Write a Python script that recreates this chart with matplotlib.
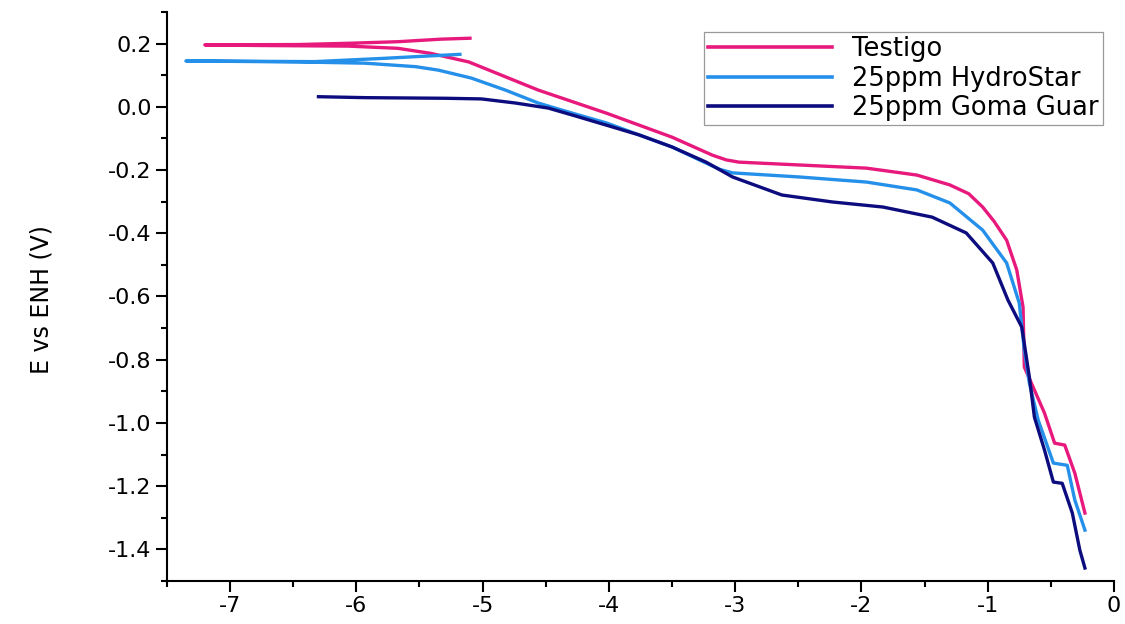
import matplotlib
matplotlib.use('Agg')
import matplotlib.pyplot as plt
from matplotlib.ticker import MultipleLocator, FormatStrFormatter

plt.rcParams['font.family'] = 'DejaVu Sans'
plt.rcParams['axes.unicode_minus'] = False

# log i (x) vs E (y)
testigo_x = [-5.10, -5.33, -5.67, -6.06, -6.46, -7.20, -6.78, -6.06, -5.67, -5.41, -5.11,
             -4.56, -4.02, -3.50, -3.18, -3.07, -2.97, -2.49, -1.96, -1.56, -1.30, -1.15, -1.04,
             -0.95, -0.85, -0.77, -0.72, -0.71, -0.63, -0.55, -0.47, -0.39, -0.31, -0.23]
testigo_y = [0.217, 0.214, 0.206, 0.201, 0.197, 0.196, 0.194, 0.192, 0.185, 0.169, 0.142,
             0.053, -0.020, -0.096, -0.153, -0.168, -0.175, -0.184, -0.194, -0.216, -0.247, -0.275, -0.317,
             -0.362, -0.422, -0.516, -0.634, -0.823, -0.896, -0.969, -1.064, -1.070, -1.159, -1.285]

hydro_x = [-5.18, -5.80, -6.33, -7.35, -6.46, -5.93, -5.53, -5.35, -5.09, -4.82, -4.56,
           -4.29, -4.02, -3.76, -3.50, -3.23, -3.12, -3.02, -2.49, -1.96, -1.56, -1.30, -1.04,
           -0.85, -0.75, -0.71, -0.67, -0.60, -0.48, -0.37, -0.31, -0.23]
hydro_y = [0.166, 0.153, 0.143, 0.145, 0.142, 0.138, 0.127, 0.116, 0.091, 0.053, 0.012,
           -0.020, -0.051, -0.089, -0.127, -0.178, -0.198, -0.209, -0.222, -0.238, -0.263, -0.304, -0.390,
           -0.494, -0.621, -0.770, -0.874, -0.991, -1.127, -1.134, -1.244, -1.339]

guar_x = [-6.30, -5.93, -5.29, -5.01, -4.74, -4.48, -4.29, -4.02, -3.76, -3.50, -3.23,
          -3.02, -2.89, -2.63, -2.23, -1.83, -1.44, -1.17, -0.96, -0.84, -0.73, -0.67,
          -0.63, -0.55, -0.48, -0.41, -0.33, -0.27, -0.23]
guar_y = [0.032, 0.029, 0.027, 0.025, 0.012, -0.004, -0.026, -0.058, -0.089, -0.127, -0.175,
          -0.222, -0.241, -0.279, -0.301, -0.317, -0.349, -0.399, -0.494, -0.611, -0.697, -0.855,
          -0.982, -1.086, -1.187, -1.191, -1.285, -1.403, -1.459]

labels = ['Testigo', '25ppm HydroStar', '25ppm Goma Guar']
colors = ['#e8197c', '#2590ea', '#0c0c7e']

fig = plt.figure(figsize=(11.25, 6.24), dpi=100)
ax = fig.add_axes([0.1484, 0.0689, 0.8418, 0.9119])

ax.plot(testigo_x, testigo_y, color=colors[0], lw=2.4, label=labels[0])
ax.plot(hydro_x, hydro_y, color=colors[1], lw=2.4, label=labels[1])
ax.plot(guar_x, guar_y, color=colors[2], lw=2.4, label=labels[2])

ax.set_xlim(-7.5, 0)
ax.set_ylim(-1.5, 0.3)
ax.xaxis.set_major_locator(MultipleLocator(1))
ax.xaxis.set_minor_locator(MultipleLocator(0.5))
ax.yaxis.set_major_locator(MultipleLocator(0.2))
ax.yaxis.set_minor_locator(MultipleLocator(0.1))
ax.yaxis.set_major_formatter(FormatStrFormatter('%.1f'))
ax.set_yticks([-1.4, -1.2, -1.0, -0.8, -0.6, -0.4, -0.2, 0.0, 0.2])

for s in ['top', 'right']:
    ax.spines[s].set_visible(False)
for s in ['left', 'bottom']:
    ax.spines[s].set_linewidth(1.5)

ax.tick_params(which='major', direction='out', length=8, width=1.5, labelsize=16, pad=3)
ax.tick_params(which='minor', direction='out', length=4.5, width=1.5)

ax.set_ylabel('E vs ENH (V)', fontsize=17)
ax.yaxis.set_label_coords(-0.12, 0.494)

leg = ax.legend(loc='upper right', bbox_to_anchor=(0.988, 0.965), borderaxespad=0,
                fontsize=18.5, frameon=True, fancybox=False, edgecolor='#808080',
                handlelength=4.8, handletextpad=0.8, borderpad=0.15, labelspacing=0.15)
leg.get_frame().set_linewidth(0.9)
for line in leg.get_lines():
    line.set_linewidth(2.6)

fig.savefig('out.png', dpi=100)
